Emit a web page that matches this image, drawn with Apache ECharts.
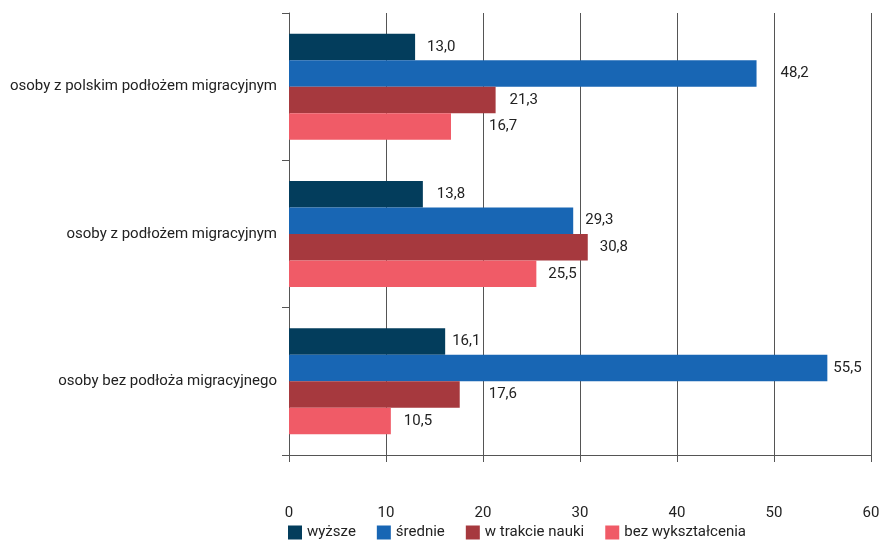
<!DOCTYPE html>
<html>
<head>
<meta charset="utf-8">
<script src="https://cdn.jsdelivr.net/npm/echarts@6/dist/echarts.min.js"></script>
<style>
  html, body { margin: 0; padding: 0; background: #fff; }
  #chart { width: 879px; height: 541px; }
</style>
</head>
<body>
<div id="chart"></div>
<script>
// grupy (od góry)
const categories = [
  'osoby z polskim podłożem migracyjnym',
  'osoby z podłożem migracyjnym',
  'osoby bez podłoża migracyjnego'
]
const seriesNames = ['wyższe', 'średnie', 'w trakcie nauki', 'bez wykształcenia']
const wyzsze = [13.0, 13.8, 16.1]
const srednie = [48.2, 29.3, 55.5]
const wTrakcie = [21.3, 30.8, 17.6]
const bezWyksztalcenia = [16.7, 25.5, 10.5]
const xTicks = [0, 10, 20, 30, 40, 50, 60]

// styl: kolory serii i odstępy etykiet od słupków (jak w oryginale, ręcznie przesunięte)
const colors = ['#033d5c', '#1866b4', '#a6393e', '#f05b67']
const labelGaps = [[12, 14, 7], [24, 12, 6], [14, 12, 29], [38, 12, 13]]
const font = 'Roboto, "Liberation Sans", sans-serif'

const chart = echarts.init(document.getElementById('chart'))

const makeSeries = (name, values, i) => ({
  name: name,
  type: 'bar',
  data: values.map((v, j) => ({ value: v, label: { distance: labelGaps[i][j] } })),
  barGap: '0%',
  barCategoryGap: '28%',
  itemStyle: { color: colors[i] },
  label: {
    show: true,
    position: 'right',
    distance: 12,
    color: '#222',
    fontFamily: font,
    fontSize: 15,
    formatter: p => p.value.toFixed(1).replace('.', ',')
  }
})

chart.setOption({
  animation: false,
  textStyle: { fontFamily: font },
  grid: { left: 289, right: 8, top: 13, bottom: 86, containLabel: false, outerBoundsMode: 'none' },
  legend: {
    left: 283,
    top: 520,
    itemWidth: 14,
    itemHeight: 14,
    itemGap: 21,
    icon: 'rect',
    textStyle: { fontFamily: font, fontSize: 15, color: '#222' },
    data: seriesNames
  },
  xAxis: {
    type: 'value',
    min: xTicks[0],
    max: xTicks[xTicks.length - 1],
    interval: 10,
    axisLine: { show: true, lineStyle: { color: '#555', width: 1 } },
    axisTick: { show: true, length: 7, lineStyle: { color: '#555' } },
    axisLabel: { color: '#222', fontSize: 15, fontFamily: font, margin: 51 },
    splitLine: { show: true, lineStyle: { color: '#555', width: 1 } }
  },
  yAxis: {
    type: 'category',
    inverse: true,
    data: categories,
    axisLine: { show: true, lineStyle: { color: '#555', width: 1 } },
    axisTick: { show: true, length: 7, lineStyle: { color: '#555' } },
    axisLabel: { color: '#222', fontSize: 15, fontFamily: font, margin: 12 }
  },
  series: [
    makeSeries(seriesNames[0], wyzsze, 0),
    makeSeries(seriesNames[1], srednie, 1),
    makeSeries(seriesNames[2], wTrakcie, 2),
    makeSeries(seriesNames[3], bezWyksztalcenia, 3)
  ]
})
</script>
</body>
</html>
